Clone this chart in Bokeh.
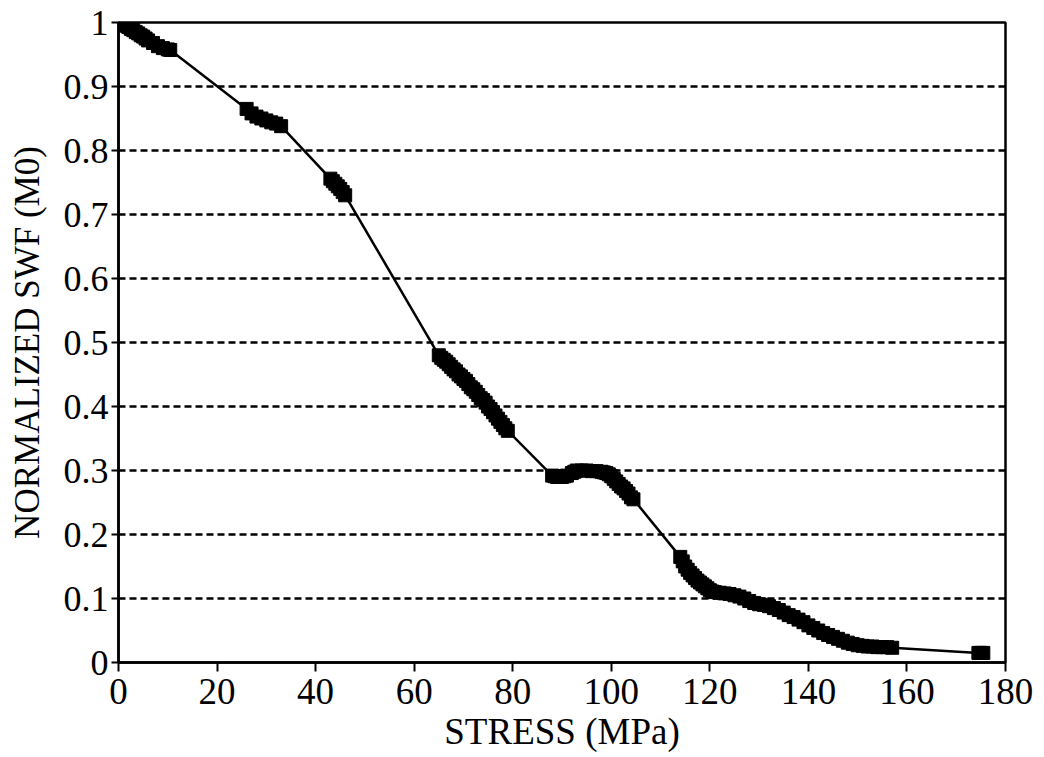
from bokeh.plotting import figure
from bokeh.models import Range1d, FixedTicker, CustomJSTickFormatter
from bokeh.embed import file_html
from bokeh.resources import INLINE

# ---- data ----
stress = [
    0.0, 0.5, 1.0, 1.5, 2.0, 2.5, 3.0, 3.5, 4.0, 4.5, 5.0, 5.5, 6.0, 7.0, 8.0, 9.0, 10.0, 10.5,
    26.0, 27.0, 28.0, 29.0, 30.0, 31.0, 32.0, 33.0,
    43.0, 43.5, 44.0, 44.5, 45.0, 45.5, 46.0,
    65.0, 65.5, 66.0, 66.5, 67.0, 67.5, 68.0, 68.5, 69.0, 69.5, 70.0, 70.5, 71.0, 71.5,
    72.0, 72.5, 73.0, 73.5, 74.0, 74.5, 75.0, 75.5, 76.0, 76.5, 77.0, 77.5, 78.0, 78.5, 79.0,
    88.0, 88.5, 89.0, 89.5, 90.0, 90.5, 91.0, 92.0, 92.5, 93.0, 94.0, 95.0, 96.0, 97.0,
    98.0, 98.5, 99.0, 99.5, 100.0, 100.5, 101.0, 101.5, 102.0, 102.5, 103.0, 103.5, 104.0, 104.5,
    114.0, 114.5, 115.0, 115.5, 116.0, 116.5, 117.0, 117.5, 118.0, 118.5, 119.0, 119.5, 120.0,
    120.5, 121.0, 122.0, 123.0, 124.0, 125.0, 126.0, 127.0, 128.0, 129.0, 130.0, 131.0, 132.0,
    133.0, 134.0, 135.0, 136.0, 137.0, 138.0, 139.0, 140.0, 141.0, 142.0, 143.0, 144.0, 145.0,
    146.0, 147.0, 148.0, 149.0, 150.0, 151.0, 152.0, 153.0, 154.0, 155.0, 156.0, 157.0,
    174.5, 175.0, 175.5,
]
swf = [
    1.000, 0.999, 0.998, 0.995, 0.993, 0.990, 0.988, 0.985, 0.983, 0.980, 0.978, 0.975, 0.972, 0.968, 0.963, 0.960, 0.958, 0.957,
    0.865, 0.858, 0.853, 0.850, 0.847, 0.844, 0.842, 0.838,
    0.756, 0.752, 0.748, 0.744, 0.740, 0.735, 0.730,
    0.480, 0.476, 0.473, 0.470, 0.466, 0.462, 0.458, 0.455, 0.450, 0.447, 0.443, 0.440, 0.435, 0.430,
    0.427, 0.423, 0.418, 0.413, 0.410, 0.406, 0.400, 0.396, 0.391, 0.386, 0.381, 0.376, 0.371, 0.366, 0.362,
    0.292, 0.291, 0.290, 0.290, 0.290, 0.291, 0.292, 0.296, 0.298, 0.300, 0.300, 0.300, 0.299, 0.299,
    0.298, 0.297, 0.296, 0.294, 0.291, 0.287, 0.283, 0.279, 0.275, 0.272, 0.268, 0.264, 0.258, 0.255,
    0.165, 0.158, 0.150, 0.145, 0.140, 0.136, 0.132, 0.128, 0.125, 0.122, 0.119, 0.116, 0.113,
    0.111, 0.110, 0.109, 0.108, 0.107, 0.105, 0.103, 0.100, 0.096, 0.093, 0.091, 0.090, 0.088,
    0.085, 0.082, 0.078, 0.074, 0.071, 0.067, 0.063, 0.058, 0.054, 0.050, 0.046, 0.043, 0.040,
    0.037, 0.034, 0.031, 0.029, 0.027, 0.026, 0.025, 0.025, 0.024, 0.024, 0.024, 0.023,
    0.015, 0.015, 0.015,
]
x_ticks = [0, 20, 40, 60, 80, 100, 120, 140, 160, 180]
y_ticks = [0, 0.1, 0.2, 0.3, 0.4, 0.5, 0.6, 0.7, 0.8, 0.9, 1.0]
x_label = "STRESS (MPa)"
y_label = "NORMALIZED SWF (M0)"

FONT = "Liberation Serif"

p = figure(width=1044, height=757, output_backend="svg", toolbar_location=None,
           x_range=Range1d(0, 180), y_range=Range1d(0, 1),
           min_border_left=118, min_border_right=39, min_border_top=22, min_border_bottom=95)
p.background_fill_color = "white"
p.border_fill_color = "white"
p.outline_line_color = "black"
p.outline_line_width = 2.5

p.line(stress, swf, line_color="black", line_width=2.5)
p.scatter(stress, swf, marker="square", size=13, fill_color="black", line_color="black")

p.xaxis.ticker = FixedTicker(ticks=x_ticks)
p.yaxis.ticker = FixedTicker(ticks=y_ticks)
p.yaxis.formatter = CustomJSTickFormatter(code="return String(Math.round(tick*10)/10);")
p.xaxis.axis_label = x_label
p.yaxis.axis_label = y_label

for ax in (p.xaxis, p.yaxis):
    ax.axis_line_color = "black"
    ax.axis_line_width = 2.5
    ax.major_tick_line_color = "black"
    ax.major_tick_line_width = 2
    ax.major_tick_in = 0
    ax.minor_tick_line_color = None
    ax.major_label_text_font = FONT
    ax.major_label_text_color = "black"
    ax.axis_label_text_font = FONT
    ax.axis_label_text_font_style = "normal"
    ax.axis_label_text_color = "black"

p.xaxis.major_tick_out = 9
p.yaxis.major_tick_out = 7
p.xaxis.major_label_text_font_size = "37px"
p.yaxis.major_label_text_font_size = "36px"
p.xaxis.axis_label_text_font_size = "37px"
p.yaxis.axis_label_text_font_size = "35px"
p.xaxis.major_label_standoff = 7
p.yaxis.major_label_standoff = 3
p.xaxis.axis_label_standoff = 4
p.yaxis.axis_label_standoff = 14

p.xgrid.grid_line_color = None
p.ygrid.ticker = FixedTicker(ticks=y_ticks)
p.ygrid.grid_line_color = "black"
p.ygrid.grid_line_width = 2.5
p.ygrid.grid_line_dash = "7 4"

open("out.html", "w").write(file_html(p, INLINE))
